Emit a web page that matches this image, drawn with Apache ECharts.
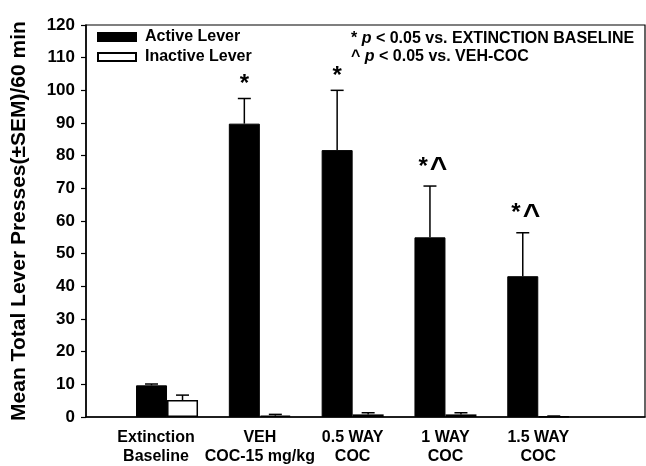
<!DOCTYPE html>
<html>
<head>
<meta charset="utf-8">
<script src="https://cdn.jsdelivr.net/npm/echarts@6.0.0/dist/echarts.min.js"></script>
<style>html,body{margin:0;padding:0;background:#fff;}#chart{width:646px;height:466px;}</style>
</head>
<body>
<div id="chart"></div>
<script>
// ---- data ----
const categories = ['Extinction\nBaseline', 'VEH\nCOC-15 mg/kg', '0.5 WAY\nCOC', '1 WAY\nCOC', '1.5 WAY\nCOC'];
const positions = [1, 2, 3, 4, 5];
const activeMean = [9.7, 89.8, 81.7, 55.0, 43.1];
const activeSem = [0.4, 7.7, 18.3, 15.7, 13.3];
const inactiveMean = [5.2, 0.4, 0.8, 0.8, 0.2];
const inactiveSem = [1.5, 0.4, 0.5, 0.5, 0.1];
const sigMarks = ['', '*', '*', '*^', '*^'];
const yTicks = [0, 10, 20, 30, 40, 50, 60, 70, 80, 90, 100, 110, 120];
const seriesNames = ['Active Lever', 'Inactive Lever'];

const FONT = '"Liberation Sans", Arial, Helvetica, sans-serif';
const BAR_W = 31;
const X_MIN = 0.127, X_MAX = 6.15;

function markText(mark) {
  const multi = mark.length > 1;
  return mark.split('').map(function (ch) {
    return ch === '^' ? '{c|^}' : (multi ? '{t|' + ch + '}' : '{s|' + ch + '}');
  }).join('');
}

function errSeries(name, means, sems, marks, offset) {
  return {
    type: 'custom',
    name: name + ' SEM',
    silent: true,
    z: 5,
    data: positions.map((p, i) => [p, means[i], sems[i], marks ? marks[i] : '']),
    renderItem: function (params, api) {
      const base = api.coord([api.value(0), api.value(1)]);
      const top = api.coord([api.value(0), api.value(1) + api.value(2)]);
      const cx = base[0] + offset;
      const st = { stroke: '#000', lineWidth: 1.5 };
      const children = [
        { type: 'line', shape: { x1: cx, y1: base[1], x2: cx, y2: top[1] }, style: st },
        { type: 'line', shape: { x1: cx - 6.5, y1: top[1], x2: cx + 6.5, y2: top[1] }, style: st }
      ];
      const mark = api.value(3);
      if (mark) {
        children.push({
          type: 'text',
          x: cx + (mark.length > 1 ? 3 : 0), y: top[1] - 2,
          style: {
            text: markText(mark), align: 'center', verticalAlign: 'bottom',
            rich: {
              s: { font: 'bold 24px ' + FONT, fill: '#000', lineHeight: 30, verticalAlign: 'bottom' },
              t: { font: 'bold 24px ' + FONT, fill: '#000', lineHeight: 30, verticalAlign: 'bottom', padding: [0, 0, 5, 0] },
              c: { font: 'bold 30px ' + FONT, fill: '#000', lineHeight: 30, verticalAlign: 'bottom', padding: [0, 0, 0, 2] }
            }
          }
        });
      }
      return { type: 'group', children: children };
    }
  };
}

const chart = echarts.init(document.getElementById('chart'), null, { renderer: 'canvas' });
chart.setOption({
  animation: false,
  backgroundColor: '#fff',
  textStyle: { fontFamily: FONT },
  grid: { left: 86, right: 1, top: 25, bottom: 49, show: true, borderColor: '#000', borderWidth: 1.2,
    containLabel: false, outerBoundsMode: 'none' },
  title: {
    left: 351, top: 29, padding: 0,
    text: '* {i|p} < 0.05 vs. EXTINCTION BASELINE\n^ {i|p} < 0.05 vs. VEH-COC',
    textStyle: {
      fontFamily: FONT, fontSize: 16, fontWeight: 'bold', color: '#000', lineHeight: 18.5,
      rich: { i: { fontFamily: FONT, fontSize: 16, fontWeight: 'bold', fontStyle: 'italic', color: '#000', lineHeight: 18.5 } }
    }
  },
  legend: {
    left: 97, top: 29, padding: 0, orient: 'vertical',
    itemWidth: 38, itemHeight: 8, itemGap: 4,
    icon: 'rect',
    data: seriesNames,
    textStyle: { fontFamily: FONT, fontSize: 16, fontWeight: 'bold', color: '#000', padding: [0, 0, 0, 4] }
  },
  xAxis: {
    type: 'value', min: X_MIN, max: X_MAX,
    splitLine: { show: false },
    axisLine: { show: true, onZero: false, lineStyle: { color: '#000', width: 1.5 } },
    axisTick: { show: false },
    axisLabel: {
      customValues: [X_MIN].concat(positions),
      hideOverlap: false,
      margin: 11,
      color: '#000', fontFamily: FONT, fontSize: 16, fontWeight: 'bold', lineHeight: 19,
      formatter: function (v) {
        const i = positions.indexOf(v);
        if (i < 0) return ' ';
        if (i === 0) return categories[0].split('\n').map(function (s) { return '{e|' + s + '}'; }).join('\n');
        return categories[i];
      },
      rich: { e: { fontFamily: FONT, fontSize: 16, fontWeight: 'bold', color: '#000', lineHeight: 19, padding: [0, 22, 0, 0] } }
    }
  },
  yAxis: {
    type: 'value', min: 0, max: 120, interval: 10,
    splitLine: { show: false },
    axisLine: { show: true, onZero: false, lineStyle: { color: '#000', width: 1.5 } },
    axisTick: { show: true, inside: false, length: 5, lineStyle: { color: '#000', width: 1.2 } },
    axisLabel: { margin: 11, color: '#000', fontFamily: FONT, fontSize: 17, fontWeight: 'bold',
      formatter: function (v) { return yTicks.indexOf(v) >= 0 ? String(v) : ''; } },
    name: 'Mean Total Lever Presses(\u00B1SEM)/60 min',
    nameLocation: 'middle', nameRotate: 90, nameGap: 56,
    nameTextStyle: { fontFamily: FONT, fontSize: 21, fontWeight: 'bold', color: '#000' }
  },
  series: [
    {
      type: 'bar', name: seriesNames[0], barWidth: BAR_W, barGap: '0%',
      data: positions.map((p, i) => [p, activeMean[i]]),
      itemStyle: { color: '#000', borderColor: '#000', borderWidth: 1 }
    },
    {
      type: 'bar', name: seriesNames[1], barWidth: BAR_W, barGap: '0%',
      data: positions.map((p, i) => [p, inactiveMean[i]]),
      itemStyle: { color: '#fff', borderColor: '#000', borderWidth: 1.5 }
    },
    errSeries(seriesNames[0], activeMean, activeSem, sigMarks, -BAR_W / 2),
    errSeries(seriesNames[1], inactiveMean, inactiveSem, null, BAR_W / 2)
  ]
});
</script>
</body>
</html>
